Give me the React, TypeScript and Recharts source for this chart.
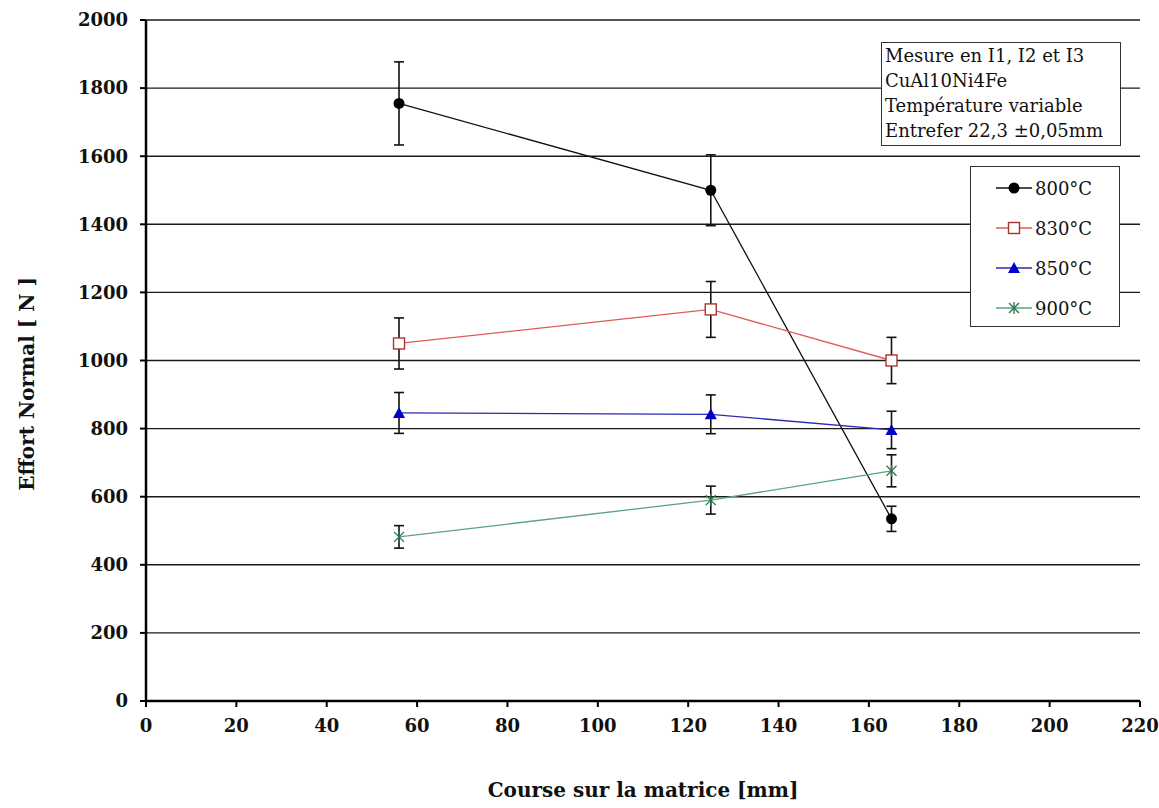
import React from "react";
import { CartesianGrid, ErrorBar, Legend, Line, LineChart, XAxis, YAxis } from "recharts";

// course positions (mm) and measured normal force (N) per temperature, with +/- error
const course = [56, 125, 165];
const t800 = [1755, 1500, 535];
const e800 = [122, 104, 37];
const t830 = [1050, 1150, 1000];
const e830 = [75, 82, 68];
const t850 = [846, 842, 796];
const e850 = [60, 57, 55];
const t900 = [482, 590, 676];
const e900 = [33, 41, 47];

const xTicks = [0, 20, 40, 60, 80, 100, 120, 140, 160, 180, 200, 220];
const yTicks = [0, 200, 400, 600, 800, 1000, 1200, 1400, 1600, 1800, 2000];

const notes = ["Mesure en I1, I2 et I3", "CuAl10Ni4Fe", "Température variable", "Entrefer 22,3 ±0,05mm"];

const data = course.map((x, i) => ({
  x,
  t800: t800[i],
  e800: e800[i],
  t830: t830[i],
  e830: e830[i],
  t850: t850[i],
  e850: e850[i],
  t900: t900[i],
  e900: e900[i],
}));

type Mark = "circle" | "square" | "triangle" | "star";

const series: { key: string; err: string; name: string; line: string; mark: string; shape: Mark }[] = [
  { key: "t800", err: "e800", name: "800°C", line: "#111111", mark: "#000000", shape: "circle" },
  { key: "t830", err: "e830", name: "830°C", line: "#e05a55", mark: "#a8352e", shape: "square" },
  { key: "t850", err: "e850", name: "850°C", line: "#2a2ab8", mark: "#0000c8", shape: "triangle" },
  { key: "t900", err: "e900", name: "900°C", line: "#5aa57c", mark: "#2f7050", shape: "star" },
];

function marker(shape: Mark, color: string, cx: number, cy: number, key?: string) {
  if (shape === "circle") return <circle key={key} cx={cx} cy={cy} r={5.5} fill={color} />;
  if (shape === "square")
    return <rect key={key} x={cx - 5.5} y={cy - 5.5} width={11} height={11} fill="#fff" stroke={color} strokeWidth={1.4} />;
  if (shape === "triangle")
    return <polygon key={key} points={`${cx},${cy - 6} ${cx + 6},${cy + 5} ${cx - 6},${cy + 5}`} fill={color} />;
  return (
    <g key={key} stroke={color} strokeWidth={1.3}>
      <line x1={cx - 5} y1={cy - 5} x2={cx + 5} y2={cy + 5} />
      <line x1={cx - 5} y1={cy + 5} x2={cx + 5} y2={cy - 5} />
      <line x1={cx} y1={cy - 6} x2={cx} y2={cy + 6} />
    </g>
  );
}

const serif = "'DejaVu Serif', 'Liberation Serif', serif";
const tickStyle = { fontFamily: serif, fontWeight: 700, fontSize: 18, fill: "#111" };

function LegendBox() {
  return (
    <div
      style={{
        border: "1.5px solid #333",
        background: "#fff",
        width: 150,
        height: 161,
        boxSizing: "border-box",
        padding: "1px 0 0 24px",
        fontFamily: serif,
        fontSize: 18,
        color: "#111",
      }}
    >
      {series.map((s) => (
        <div key={s.key} style={{ display: "flex", alignItems: "center", height: 40 }}>
          <svg width={38} height={16}>
            <line x1={1} y1={8} x2={37} y2={8} stroke={s.line} strokeWidth={1.3} />
            {marker(s.shape, s.mark, 19, 8)}
          </svg>
          <span style={{ marginLeft: 2 }}>{s.name}</span>
        </div>
      ))}
    </div>
  );
}

export default function App() {
  return (
    <div style={{ position: "absolute", left: 0, top: 0, width: 1159, height: 808, background: "#fff" }}>
      <LineChart width={1159} height={808} data={data} margin={{ top: 20, right: 19, left: 0, bottom: 7 }}>
        <CartesianGrid vertical={false} stroke="#1a1a1a" strokeWidth={1.4} />
        <XAxis
          dataKey="x"
          type="number"
          domain={[0, 220]}
          ticks={xTicks}
          interval={0}
          height={100}
          stroke="#000"
          axisLine={{ strokeWidth: 2.5 }}
          tickLine={{ strokeWidth: 2 }}
          tickSize={6}
          tickMargin={12}
          tick={tickStyle}
          label={{
            value: "Course sur la matrice [mm]",
            position: "insideBottom",
            offset: 4,
            style: { fontFamily: serif, fontWeight: 700, fontSize: 20, fill: "#111" },
          }}
        />
        <YAxis
          type="number"
          domain={[0, 2000]}
          ticks={yTicks}
          interval={0}
          width={146}
          stroke="#000"
          axisLine={{ strokeWidth: 2.5 }}
          tickLine={{ strokeWidth: 2 }}
          tickSize={6}
          tickMargin={12}
          tick={tickStyle}
        />
        <Legend
          layout="vertical"
          align="center"
          verticalAlign="middle"
          content={() => <LegendBox />}
          wrapperStyle={{ position: "absolute", left: 970, top: 166, width: 150, height: 161 }}
        />
        {series.map((s) => (
          <Line
            key={s.key}
            dataKey={s.key}
            name={s.name}
            type="linear"
            stroke={s.line}
            strokeWidth={1.3}
            isAnimationActive={false}
            dot={(p: any) => marker(s.shape, s.mark, p.cx, p.cy, `${s.key}-${p.index}`)}
            activeDot={false}
          >
            <ErrorBar dataKey={s.err} direction="y" width={5} stroke="#111" strokeWidth={1.6} />
          </Line>
        ))}
      </LineChart>
      <div
        style={{
          position: "absolute",
          left: 27,
          top: 384,
          transform: "translate(-50%, -50%) rotate(-90deg)",
          whiteSpace: "nowrap",
          fontFamily: serif,
          fontWeight: 700,
          fontSize: 20,
          color: "#111",
        }}
      >
        Effort Normal [ N ]
      </div>
      <div
        style={{
          position: "absolute",
          left: 881,
          top: 42,
          width: 240,
          height: 104,
          boxSizing: "border-box",
          border: "1.5px solid #333",
          background: "#fff",
          padding: "0 0 0 3px",
          fontFamily: serif,
          fontSize: 18,
          lineHeight: "25px",
          color: "#111",
          whiteSpace: "nowrap",
        }}
      >
        {notes.map((n) => (
          <div key={n}>{n}</div>
        ))}
      </div>
    </div>
  );
}
